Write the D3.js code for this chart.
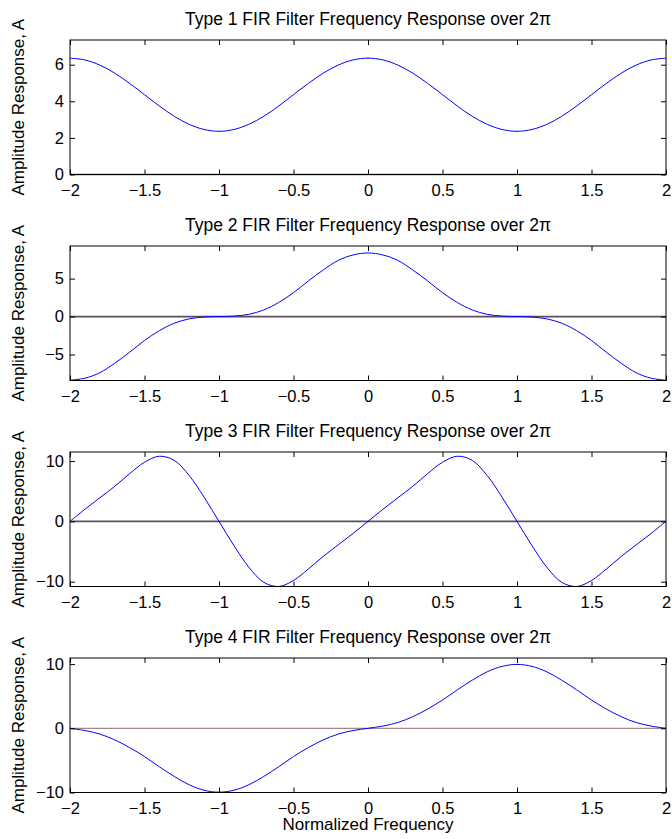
<!DOCTYPE html>
<html>
<head>
<meta charset="utf-8">
<script src="https://cdn.jsdelivr.net/npm/d3@7"></script>
<style>
  body { margin: 0; background: #fff; }
  svg { display: block; font-family: "Liberation Sans", Arial, Helvetica, sans-serif; }
  .axis path { display: none; }
  .axis line { stroke: #000; }
  .axis text { font-size: 16.5px; fill: #000; }
</style>
</head>
<body>
<div id="chart"></div>
<script>
// sample grid (normalized frequency), step 0.1
const freq = [-2, -1.9, -1.8, -1.7, -1.6, -1.5, -1.4, -1.3, -1.2, -1.1, -1,
  -0.9, -0.8, -0.7, -0.6, -0.5, -0.4, -0.3, -0.2, -0.1, 0,
  0.1, 0.2, 0.3, 0.4, 0.5, 0.6, 0.7, 0.8, 0.9, 1,
  1.1, 1.2, 1.3, 1.4, 1.5, 1.6, 1.7, 1.8, 1.9, 2];

// amplitude response values
const type1Amp = [6.36, 6.26, 5.98, 5.54, 4.98, 4.36, 3.74, 3.18, 2.74, 2.46, 2.36,
  2.46, 2.74, 3.18, 3.74, 4.36, 4.98, 5.54, 5.98, 6.26, 6.36,
  6.26, 5.98, 5.54, 4.98, 4.36, 3.74, 3.18, 2.74, 2.46, 2.36,
  2.46, 2.74, 3.18, 3.74, 4.36, 4.98, 5.54, 5.98, 6.26, 6.36];
const type2Amp = [-8.38, -8.12, -7.4, -6.15, -4.7, -3.15, -1.85, -0.87, -0.3, -0.06, 0,
  0.06, 0.3, 0.87, 1.85, 3.15, 4.7, 6.15, 7.4, 8.12, 8.38,
  8.12, 7.4, 6.15, 4.7, 3.15, 1.85, 0.87, 0.3, 0.06, 0,
  -0.06, -0.3, -0.87, -1.85, -3.15, -4.7, -6.15, -7.4, -8.12, -8.38];
const type3Amp = [0, 2.0, 3.9, 5.8, 7.9, 9.8, 10.8, 10.1, 7.6, 4.0, 0,
  -4.0, -7.6, -10.1, -10.8, -9.8, -7.9, -5.8, -3.9, -2.0, 0,
  2.0, 3.9, 5.8, 7.9, 9.8, 10.8, 10.1, 7.6, 4.0, 0,
  -4.0, -7.6, -10.1, -10.8, -9.8, -7.9, -5.8, -3.9, -2.0, 0];
const type4Amp = [0, -0.35, -0.9, -1.8, -3.0, -4.4, -6.0, -7.5, -8.8, -9.65, -9.95,
  -9.65, -8.8, -7.5, -6.0, -4.4, -3.0, -1.8, -0.9, -0.35, 0,
  0.35, 0.9, 1.8, 3.0, 4.4, 6.0, 7.5, 8.8, 9.65, 9.95,
  9.65, 8.8, 7.5, 6.0, 4.4, 3.0, 1.8, 0.9, 0.35, 0];

const xTicks = [-2, -1.5, -1, -0.5, 0, 0.5, 1, 1.5, 2];
const yTicks1 = [0, 2, 4, 6];
const yTicks2 = [-5, 0, 5];
const yTicks3 = [-10, 0, 10];
const yTicks4 = [-10, 0, 10];

const yLim1 = [0, 7.35];
const yLim2 = [-8.42, 9.3];
const yLim3 = [-10.8, 11.5];
const yLim4 = [-10, 10.95];

const filterTypes = ['Type 1', 'Type 2', 'Type 3', 'Type 4'];

const panels = [
  { amp: type1Amp, ticks: yTicks1, lim: yLim1 },
  { amp: type2Amp, ticks: yTicks2, lim: yLim2 },
  { amp: type3Amp, ticks: yTicks3, lim: yLim3 },
  { amp: type4Amp, ticks: yTicks4, lim: yLim4 }
];

const width = 672, height = 839;
const left = 70, right = 666;
const panelTops = [40, 246, 452, 658];
const panelH = 134.5;

const svg = d3.select('#chart').append('svg')
  .attr('width', width)
  .attr('height', height);

const x = d3.scaleLinear().domain([-2, 2]).range([left, right]);
const fmt = d3.format('');

panels.forEach((p, i) => {
  const top = panelTops[i];
  const bottom = top + panelH;
  const y = d3.scaleLinear().domain(p.lim).range([bottom, top]);
  const g = svg.append('g');

  // zero line
  g.append('line')
    .attr('x1', x(-2)).attr('x2', x(2))
    .attr('y1', y(0)).attr('y2', y(0))
    .attr('stroke', i === 3 ? '#8a6870' : '#5e4e5e')
    .attr('stroke-width', i === 3 ? 1 : 1.6);

  // amplitude curve
  const line = d3.line()
    .x((d, k) => x(freq[k]))
    .y(d => y(d))
    .curve(d3.curveCatmullRom.alpha(0.5));
  g.append('path')
    .datum(p.amp)
    .attr('fill', 'none')
    .attr('stroke', '#0000ff')
    .attr('stroke-width', 1)
    .attr('d', line);

  // axes, ticks point inward like matlab
  g.append('g').attr('class', 'axis')
    .attr('transform', 'translate(0,' + bottom + ')')
    .call(d3.axisBottom(x).tickValues(xTicks).tickFormat(fmt).tickSizeInner(-5).tickSizeOuter(0).tickPadding(9.5));
  g.append('g').attr('class', 'axis')
    .attr('transform', 'translate(0,' + top + ')')
    .call(d3.axisTop(x).tickValues(xTicks).tickFormat('').tickSizeInner(-5).tickSizeOuter(0));
  g.append('g').attr('class', 'axis')
    .attr('transform', 'translate(' + left + ',0)')
    .call(d3.axisLeft(y).tickValues(p.ticks).tickFormat(fmt).tickSizeInner(-5).tickSizeOuter(0).tickPadding(6));
  g.append('g').attr('class', 'axis')
    .attr('transform', 'translate(' + right + ',0)')
    .call(d3.axisRight(y).tickValues(p.ticks).tickFormat('').tickSizeInner(-5).tickSizeOuter(0));

  // box
  g.append('rect')
    .attr('x', left).attr('y', top)
    .attr('width', right - left).attr('height', panelH)
    .attr('fill', 'none')
    .attr('stroke', '#000')
    .attr('stroke-width', 1);

  g.append('text')
    .attr('x', (left + right) / 2)
    .attr('y', top - 15)
    .attr('text-anchor', 'middle')
    .style('font-size', '17.5px')
    .text(filterTypes[i] + ' FIR Filter Frequency Response over 2π');

  g.append('text')
    .attr('transform', 'translate(24,' + (top + panelH / 2) + ') rotate(-90)')
    .attr('text-anchor', 'middle')
    .style('font-size', '17px')
    .text('Amplitude Response, A');
});

svg.append('text')
  .attr('x', (left + right) / 2)
  .attr('y', 830)
  .attr('text-anchor', 'middle')
  .style('font-size', '17px')
  .text('Normalized Frequency');
</script>
</body>
</html>
